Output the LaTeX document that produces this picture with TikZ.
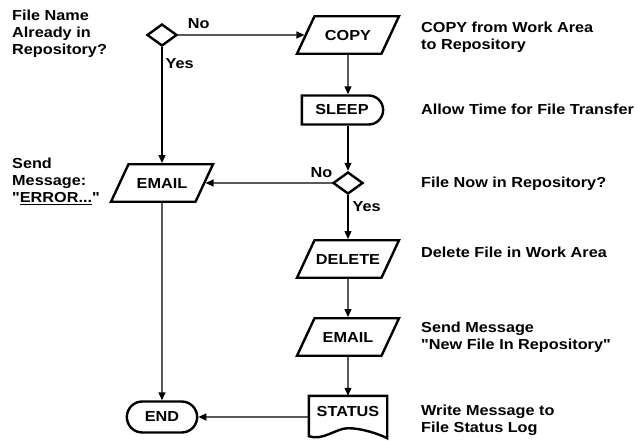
\documentclass[tikz,border=0pt]{standalone}
\usepackage{fontspec}
\setmainfont{Liberation Sans}[FakeStretch=1.12, Ligatures=TeXOff]
\usepackage{tikz}
\usetikzlibrary{positioning,arrows.meta,shapes.geometric,shapes.misc}

\begin{document}
\begin{tikzpicture}[
        x=1pt, y=-1pt,
        font=\fontsize{14.5}{17}\selectfont\bfseries,
        shape line/.style={draw, line width=2.4pt},
        io/.style={shape line, trapezium, trapezium left angle=65, trapezium right angle=115, trapezium stretches body, minimum width=102pt, inner xsep=0pt, inner ysep=13.5pt, text height=10.5pt, text depth=0pt},
        decision/.style={shape line, diamond, minimum width=30pt, minimum height=22pt, inner sep=0pt},
        delaybox/.style={shape line, rounded rectangle, rounded rectangle left arc=none, minimum width=88pt, minimum height=29pt},
        terminal/.style={shape line, rounded rectangle, minimum width=77pt, minimum height=31pt},
        docbox/.style={minimum width=78pt, minimum height=32pt, inner sep=0pt},
        note/.style={align=left, anchor=base west, inner sep=0pt},
        lbl/.style={inner sep=0pt},
        line/.style={-{Triangle[length=8pt, width=7pt]}, line width=1.2pt}
    ]
        \useasboundingbox (0,0) rectangle (638,441);

        % main column
        \node[decision] (known) at (162,35) {};
        \node[io] (copy) at (348,35) {COPY};
        \node[delaybox] (sleep) at (342,110) {SLEEP};
        \node[decision] (arrived) at (348,183) {};
        \node[io] (delete) at (348,259) {DELETE};
        \node[io] (mailok) at (348,337) {EMAIL};
        \node[docbox] (status) at (348,412) {STATUS};
        \draw[shape line] (status.north east) -- (status.north west) -- ([yshift=-8pt]status.south west)
            .. controls +(14,5) and +(-12,0) .. (status.south)
            .. controls +(14,0) and +(-8,-4) .. ([yshift=-10pt]status.south east) -- cycle;
        % left column
        \node[io] (mailerr) at (162,183) {EMAIL};
        \node[terminal] (end) at (162,417) {END};

        % descriptions (base = last line)
        \node[note] (knowntxt) at (12,55) {File Name\\Already in\\Repository?};
        \node[note] (copytxt) at (421,50) {COPY from Work Area\\to Repository};
        \node[note] (sleeptxt) at (421,115) {Allow Time for File Transfer};
        \node[note] (arrivedtxt) at (421,188) {File Now in Repository?};
        \node[note] (deletetxt) at (421,258) {Delete File in Work Area};
        \node[note] (mailoktxt) at (421,349) {Send Message\\"New File In Repository"};
        \node[note] (statustxt) at (421,432) {Write Message to\\File Status Log};
        \node[note] (mailerrtxt) at (12,203) {Send\\Message:\\"\underline{ERROR...}"};

        \draw[line] (known) -- node[lbl, pos=0, anchor=base west, xshift=9pt, yshift=6pt] {No} (copy);
        \draw[line] (known) -- node[lbl, pos=0, anchor=base west, xshift=3pt, yshift=-21pt] {Yes} (mailerr);
        \draw[line] (copy) -- (copy |- sleep.north);
        \draw[line] (copy |- sleep.south) -- (arrived);
        \draw[line] (arrived) -- node[lbl, pos=0, anchor=base east, xshift=1pt, yshift=5pt] {No} (mailerr);
        \draw[line] (arrived) -- node[lbl, pos=0, anchor=base west, xshift=4pt, yshift=-16pt] {Yes} (delete);
        \draw[line] (delete) -- (mailok);
        \draw[line] (mailok) -- (status);
        \draw[line] (status.west |- end) -- (end);
        \draw[line] (mailerr) -- (end);
    \end{tikzpicture}
\end{document}
